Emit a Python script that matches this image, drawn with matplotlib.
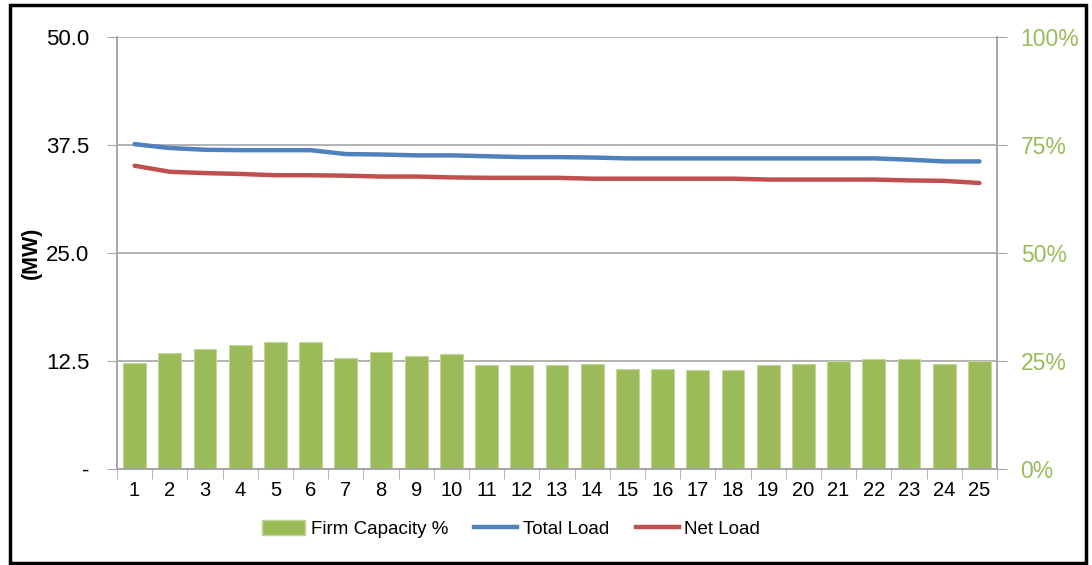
import matplotlib.pyplot as plt
from matplotlib.patches import Rectangle, Patch
from matplotlib.lines import Line2D

plt.rcParams['font.family'] = ['Liberation Sans', 'DejaVu Sans']

# data
years = list(range(1, 26))
firm_capacity_pct = [24.5, 26.8, 27.7, 28.6, 29.5, 29.5, 25.8, 27.1, 26.2, 26.5,
                     24.1, 24.1, 24.1, 24.4, 23.2, 23.2, 22.9, 22.9, 24.1, 24.4,
                     24.9, 25.5, 25.5, 24.4, 24.9]
total_load = [37.6, 37.15, 36.95, 36.9, 36.9, 36.9, 36.45, 36.4, 36.3, 36.3,
              36.2, 36.1, 36.1, 36.05, 35.95, 35.95, 35.95, 35.95, 35.95, 35.95,
              35.95, 35.95, 35.8, 35.6, 35.6]
net_load = [35.1, 34.4, 34.25, 34.15, 34.0, 34.0, 33.95, 33.85, 33.85, 33.75,
            33.7, 33.7, 33.7, 33.6, 33.6, 33.6, 33.6, 33.6, 33.5, 33.5,
            33.5, 33.5, 33.4, 33.35, 33.1]
left_ticks = [0, 12.5, 25.0, 37.5, 50.0]
left_labels = ['-', '12.5', '25.0', '37.5', '50.0']
right_ticks = [0, 25, 50, 75, 100]
right_labels = ['0%', '25%', '50%', '75%', '100%']

green = '#9BBB59'
blue = '#4F81BD'
red = '#C0504D'
grey = '#A6A6A6'

fig = plt.figure(figsize=(10.92, 5.65), dpi=100)
ax2 = fig.add_axes([0.1071, 0.170, 0.8059, 0.7645])
ax = ax2.twinx()
ax.yaxis.tick_left()
ax2.yaxis.tick_right()

# bars on the percent axis, grid drawn under them
ax2.bar(years, firm_capacity_pct, width=0.65, color=green, edgecolor='#C3D69B',
        linewidth=0.8, zorder=2)
ax2.set_ylim(0, 100)
ax2.set_yticks(right_ticks)
ax2.set_yticklabels(right_labels, color=green, fontsize=16.5)
ax2.yaxis.grid(True, color=grey, linewidth=1.2, zorder=0)
ax2.set_axisbelow(True)
ax2.tick_params(axis='y', which='major', length=7, color=grey, pad=10, right=True, left=False)

# lines on the MW axis
ax.set_zorder(ax2.get_zorder() + 1)
ax.patch.set_visible(False)
ax.plot(years, total_load, color=blue, linewidth=3.2, solid_capstyle='round')
ax.plot(years, net_load, color=red, linewidth=3.2, solid_capstyle='round')
ax.set_ylim(0, 50)
ax.set_yticks(left_ticks)
ax.set_yticklabels(left_labels, fontsize=16)
ax.tick_params(axis='y', length=7, color=grey, pad=13, left=True, right=False)

ax2.set_xlim(0.5, 25.5)
ax2.set_xticks(years)
ax2.set_xticklabels([str(y) for y in years], fontsize=14.5)
ax2.set_xticks([x + 0.5 for x in range(0, 26)], minor=True)
ax2.tick_params(axis='x', which='major', length=0, pad=9)
ax2.tick_params(axis='x', which='minor', length=7, color=grey)

for a in (ax, ax2):
    a.spines['top'].set_visible(False)
    for s in ('left', 'right', 'bottom'):
        a.spines[s].set_color(grey)
        a.spines[s].set_linewidth(1.2)

fig.text(0.029, 1 - 253 / 565, '(MW)', rotation=90, fontsize=15.5, fontweight='bold',
         ha='center', va='center')

handles = [Patch(facecolor=green, edgecolor='#C3D69B'),
           Line2D([], [], color=blue, linewidth=3.2),
           Line2D([], [], color=red, linewidth=3.2)]
fig.legend(handles, ['Firm Capacity %', 'Total Load', 'Net Load'], ncol=3,
           loc='center', bbox_to_anchor=(511 / 1092, 1 - 529 / 565), frameon=False,
           fontsize=13.5, handlelength=2.3, handleheight=0.8, handletextpad=0.3,
           columnspacing=1.4)

fig.patches.append(Rectangle((0.009, 0.004), 0.9855, 0.987, transform=fig.transFigure,
                             fill=False, edgecolor='black', linewidth=2.5))

fig.savefig('out.png', dpi=100)
